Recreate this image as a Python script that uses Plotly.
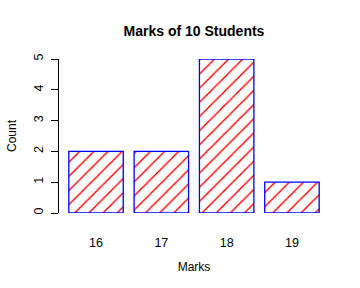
import plotly.graph_objects as go

marks = ["16", "17", "18", "19"]
counts = [2, 2, 5, 1]
y_ticks = [0, 1, 2, 3, 4, 5]

fig = go.Figure()
fig.add_trace(go.Bar(
    x=marks, y=counts,
    marker=dict(
        color="white",
        line=dict(color="blue", width=1.3),
        pattern=dict(shape="/", size=10, solidity=0.14, fgcolor="red", fgopacity=1, bgcolor="white"),
    ),
    cliponaxis=False,
))

font = "Liberation Sans, Arial, sans-serif"
fig.update_layout(
    width=360, height=288,
    margin=dict(l=59, r=31, t=59, b=75),
    paper_bgcolor="white", plot_bgcolor="white",
    showlegend=False,
    bargap=1/6,
    font=dict(family=font, size=12, color="black"),
    title=dict(text="<b>Marks of 10 Students</b>", x=(59 + 329) / 2 / 360, xanchor="center",
               y=1 - 31 / 288, yanchor="middle", font=dict(size=14, family=font, color="black")),
    xaxis=dict(
        type="category", range=[-0.567, 3.567], automargin=False,
        showline=False, showgrid=False, zeroline=False, ticks="",
        ticklabelstandoff=20,
        title=dict(text="Marks", standoff=14, font=dict(size=12)),
        tickfont=dict(size=12.5),
    ),
    yaxis=dict(
        range=[0, 5], tickvals=y_ticks, ticktext=[str(v) for v in y_ticks], automargin=False,
        showline=True, linecolor="black", linewidth=1,
        ticks="outside", ticklen=7, tickcolor="black", tickwidth=1,
        tickangle=-90, ticklabelstandoff=3,
        showgrid=False, zeroline=False,
        title=dict(text="Count", standoff=12, font=dict(size=12)),
        tickfont=dict(size=12.5),
    ),
)

fig.write_html("out.html")
